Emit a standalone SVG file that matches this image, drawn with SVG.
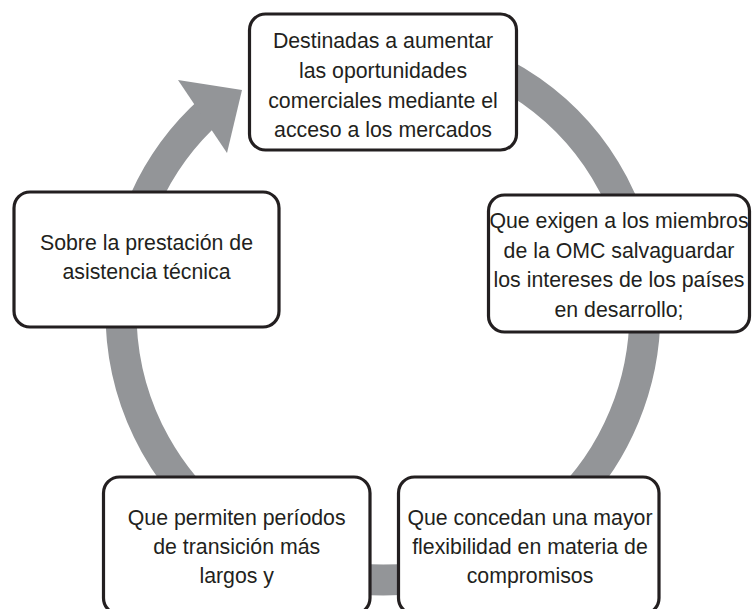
<svg xmlns="http://www.w3.org/2000/svg" width="752" height="609" viewBox="0 0 752 609">
  <style>
    .box { fill: #ffffff; stroke: #231f20; stroke-width: 3.2; }
    .lbl { font-family: "Liberation Sans", Arial, sans-serif; font-size: 21.3px; fill: #231f20; text-anchor: middle; }
    .ring { fill: none; stroke: #939598; stroke-width: 31; stroke-linecap: butt; }
    .head { fill: #939598; stroke: none; }
  </style>
  <rect width="752" height="609" fill="#ffffff"/>
  <g id="connectors">
    <path class="ring" d="M 428.5 48.1 A 262 268 0 1 1 211.1 109.7"/>
    <polygon class="head" points="178,80 242,90 227,153"/>
  </g>
  <g id="node-top">
    <rect class="box" x="249.5" y="14" width="267" height="136" rx="16" ry="16"/>
    <text class="lbl" x="383" y="48">Destinadas a aumentar</text>
    <text class="lbl" x="383" y="78">las oportunidades</text>
    <text class="lbl" x="383" y="107.5">comerciales mediante el</text>
    <text class="lbl" x="383" y="137">acceso a los mercados</text>
  </g>
  <g id="node-right">
    <rect class="box" x="488.5" y="195" width="261" height="137" rx="16" ry="16"/>
    <text class="lbl" x="619" y="228">Que exigen a los miembros</text>
    <text class="lbl" x="619" y="258">de la OMC salvaguardar</text>
    <text class="lbl" x="619" y="287">los intereses de los países</text>
    <text class="lbl" x="619" y="317">en desarrollo;</text>
  </g>
  <g id="node-bottom-right">
    <rect class="box" x="398.5" y="477" width="260.5" height="137" rx="16" ry="16"/>
    <text class="lbl" x="530" y="525">Que concedan una mayor</text>
    <text class="lbl" x="530" y="554">flexibilidad en materia de</text>
    <text class="lbl" x="530" y="583">compromisos</text>
  </g>
  <g id="node-bottom-left">
    <rect class="box" x="103.5" y="477" width="266.5" height="137" rx="16" ry="16"/>
    <text class="lbl" x="236.7" y="525">Que permiten períodos</text>
    <text class="lbl" x="236.7" y="554">de transición más</text>
    <text class="lbl" x="236.7" y="583">largos y</text>
  </g>
  <g id="node-left">
    <rect class="box" x="14" y="192" width="265" height="135" rx="16" ry="16"/>
    <text class="lbl" x="146.5" y="250">Sobre la prestación de</text>
    <text class="lbl" x="146.5" y="279">asistencia técnica</text>
  </g>
</svg>
